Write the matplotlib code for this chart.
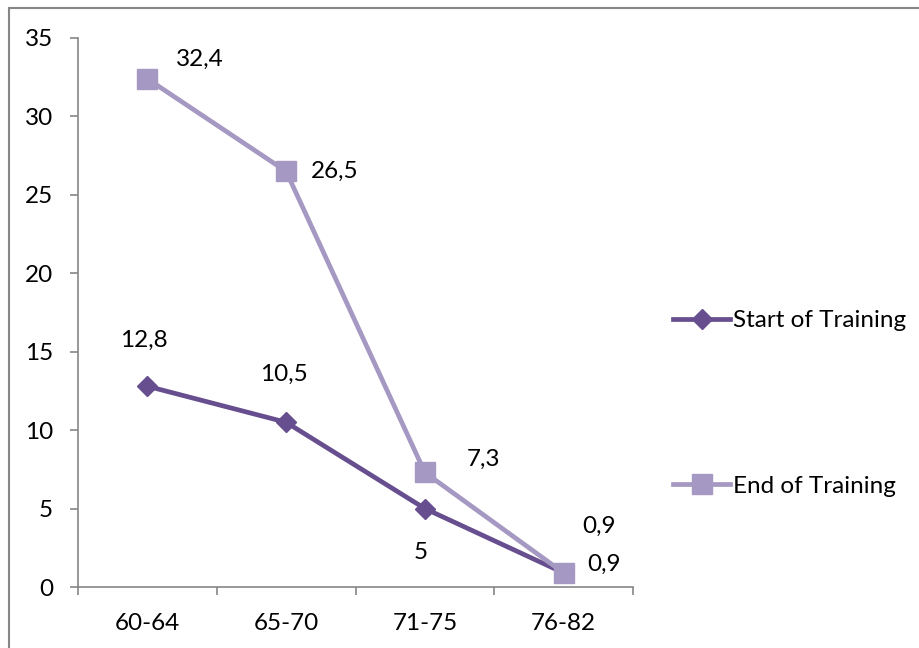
import matplotlib
matplotlib.use("Agg")
import matplotlib.pyplot as plt
from matplotlib.patches import Rectangle

categories = ["60-64", "65-70", "71-75", "76-82"]
start_values = [12.8, 10.5, 5, 0.9]
end_values = [32.4, 26.5, 7.3, 0.9]
y_ticks = [0, 5, 10, 15, 20, 25, 30, 35]

start_color = "#664E8F"
end_color = "#A598C2"
gray = "#868686"

plt.rcParams["font.family"] = ["Lato", "DejaVu Sans"]
FS = 17.5

W, H = 919, 648
fig = plt.figure(figsize=(W / 100, H / 100), dpi=100)
ax = fig.add_axes([78 / W, 61 / H, 555 / W, 549 / H])

x = list(range(len(categories)))
ax.plot(x, start_values, color=start_color, lw=3.4, marker="D", ms=10.5,
        label="Start of Training", zorder=3)
ax.plot(x, end_values, color=end_color, lw=3.4, marker="s", ms=14,
        label="End of Training", zorder=4)

def fmt(v):
    return (f"{v:g}").replace(".", ",")

start_offsets = [(-4, 46), (-2, 48), (-4, -44), (35, 47)]
end_offsets = [(52, 19), (49, 0), (59, 13), (40, 9)]
for xi, v, off in zip(x, start_values, start_offsets):
    ax.annotate(fmt(v), (xi, v), xytext=off, textcoords="offset pixels",
                ha="center", va="center", fontsize=FS)
for xi, v, off in zip(x, end_values, end_offsets):
    ax.annotate(fmt(v), (xi, v), xytext=off, textcoords="offset pixels",
                ha="center", va="center", fontsize=FS)

ax.set_xlim(-0.5, len(categories) - 0.5)
ax.set_ylim(0, 35)
ax.set_yticks(y_ticks)
ax.set_yticklabels([str(t) for t in y_ticks], fontsize=FS)
ax.set_xticks(x)
ax.set_xticklabels(categories, fontsize=FS)
ax.set_xticks([i - 0.5 for i in range(len(categories) + 1)], minor=True)
ax.tick_params(axis="x", which="major", length=0, pad=19)
ax.tick_params(axis="x", which="minor", length=6, color=gray, width=1.2)
ax.tick_params(axis="y", length=6, color=gray, width=1.2, pad=12)

for side in ("top", "right"):
    ax.spines[side].set_visible(False)
for side in ("left", "bottom"):
    ax.spines[side].set_color(gray)
    ax.spines[side].set_linewidth(1.2)

fig.legend(loc="upper left", bbox_to_anchor=(673 / W, 1 - 310 / H),
           frameon=False, fontsize=FS, labelspacing=5.95,
           handlelength=2.35, handletextpad=0.1, borderaxespad=0,
           borderpad=0)

fig.patches.append(Rectangle((9 / W, -0.1), 1.2, (H - 8) / H + 0.1,
                             transform=fig.transFigure, fill=False,
                             edgecolor=gray, lw=1.5))

fig.savefig("out.png", dpi=100)
